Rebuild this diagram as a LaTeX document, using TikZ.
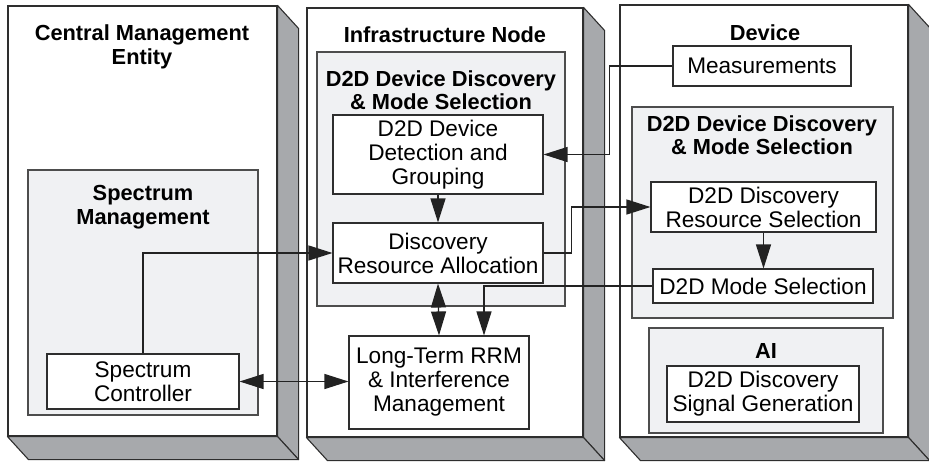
\documentclass[tikz,border=0pt]{standalone}
\usepackage{fontspec}
\setmainfont{Liberation Sans}
\usetikzlibrary{arrows.meta}
\definecolor{edgecol}{HTML}{2E2E2E}
\definecolor{sidecol}{HTML}{A7A9AC}
\definecolor{panelcol}{HTML}{F0F1F3}
\definecolor{linecol}{HTML}{222222}
\tikzset{
  shell/.style={draw=edgecol, fill=white, line width=1.1pt, inner sep=0pt},
  shellside/.style={draw=edgecol, fill=sidecol, line width=1.1pt, line join=round},
  panel/.style={draw=edgecol!85, fill=panelcol, line width=1.1pt, inner sep=0pt},
  box/.style={draw=edgecol, fill=white, line width=1.1pt, inner sep=0pt, align=center,
    font=\fontsize{22.6}{24}\selectfont},
  title/.style={inner sep=0pt, align=center, anchor=north,
    font=\fontsize{21.8}{24}\selectfont\bfseries},
  conn/.style={draw=linecol, line width=1.2pt},
  bighead/.tip={Triangle[length=24pt,width=15pt]},
  arr/.style={-bighead},
  arrboth/.style={bighead-bighead},
}
\newcommand{\shellfaces}[1]{%
  \filldraw[shellside] (#1.north east) -- ++(21,23) -- ([shift={(21,23)}]#1.south east)
    -- (#1.south east) -- cycle;
  \filldraw[shellside] (#1.south west) -- (#1.south east) -- ++(21,23)
    -- ([shift={(21,23)}]#1.south west) -- cycle;
}
\begin{document}
\begin{tikzpicture}[x=1pt, y=-1pt]
\useasboundingbox (0,0) rectangle (929,461);

% three entity blocks drawn as slabs
\node[shell, minimum width=269, minimum height=430] (cme) at (142.5,221) {};
\shellfaces{cme}
\node[shell, minimum width=276, minimum height=429] (inf) at (445,222.5) {};
\shellfaces{inf}
\node[shell, minimum width=288, minimum height=432] (dev) at (764,221) {};
\shellfaces{dev}

\node[title] (cmeT) at (142,25) {Central Management\\Entity};
\node[title] (infT) at (445,27) {Infrastructure Node};
\node[title] (devT) at (765,25) {Device};

% central management entity
\node[panel, minimum width=230, minimum height=245] (sm) at (143,292.5) {};
\node[title] (smT) at (143,185) {Spectrum\\Management};
\node[box, minimum width=192, minimum height=55] (sc) at (143,381.5) {Spectrum\\Controller};

% infrastructure node
\node[panel, minimum width=248, minimum height=254] (ipan) at (441,179) {};
\node[title] (ipanT) at (441,70) {D2D Device Discovery\\\& Mode Selection};
\node[box, minimum width=210, minimum height=79] (det) at (438,154.5) {D2D Device\\Detection and\\Grouping};
\node[box, minimum width=210, minimum height=60] (dra) at (438,253) {Discovery\\Resource Allocation};
\node[box, minimum width=180, minimum height=93] (lt) at (439,382.5) {Long-Term RRM\\\& Interference\\Management};

% device
\node[box, minimum width=178, minimum height=40] (meas) at (762,66) {Measurements};
\node[panel, minimum width=261, minimum height=211] (dpan) at (762.5,212.5) {};
\node[title] (dpanT) at (762,115) {D2D Device Discovery\\\& Mode Selection};
\node[box, minimum width=225, minimum height=50] (drs) at (763.5,207) {D2D Discovery\\Resource Selection};
\node[box, minimum width=220, minimum height=34] (dms) at (763,286) {D2D Mode Selection};
\node[panel, minimum width=234, minimum height=105] (ai) at (766,380.5) {};
\node[title] (aiT) at (766,343) {AI};
\node[box, minimum width=192, minimum height=56] (dsg) at (763,394) {D2D Discovery\\Signal Generation};

% connectors
\draw[conn, arr] (meas.west) -- ++(-63,0) |- (det.east);
\draw[conn, arr] (det.south) -- (dra.north);
\draw[conn, arrboth] (dra.south) -- (lt.north);
\draw[conn, arr] (dra.east) -- ++(28,0) |- (drs.west);
\draw[conn, arr] (drs.south) -- (drs.south |- dms.north);
\draw[conn, arr] (dms.west) -| ([xshift=45pt]lt.north);
\draw[conn, arr] (sc.north) |- (dra.west);
\draw[conn, arrboth] (sc.east) -- (sc.east -| lt.west);
\end{tikzpicture}
\end{document}
